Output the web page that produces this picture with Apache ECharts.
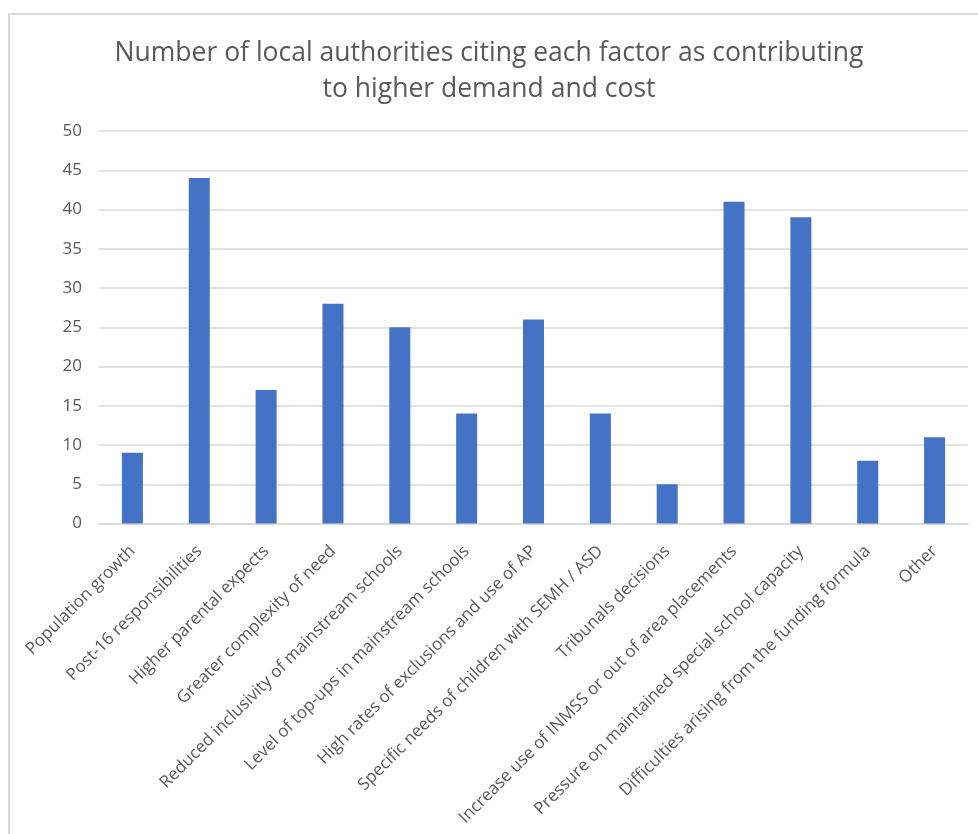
<!DOCTYPE html>
<html>
<head>
<meta charset="utf-8">
<script src="https://cdn.jsdelivr.net/npm/echarts@6/dist/echarts.min.js"></script>
<style>
  html, body { margin: 0; padding: 0; background: #fff; }
  #frame { position: absolute; left: 8px; top: 13px; width: 980px; height: 830px;
           border-left: 2px solid #d9d9d9; border-top: 2px solid #d9d9d9; box-sizing: border-box; }
  #chart { position: absolute; left: 0; top: 0; width: 978px; height: 834px; }
</style>
</head>
<body>
<div id="frame"></div>
<div id="chart"></div>
<script>
// Factors cited by local authorities
const categories = [
  'Population growth',
  'Post-16 responsibilities',
  'Higher parental expects',
  'Greater complexity of need',
  'Reduced inclusivity of mainstream schools',
  'Level of top-ups in mainstream schools',
  'High rates of exclusions and use of AP',
  'Specific needs of children with SEMH / ASD',
  'Tribunals decisions',
  'Increase use of INMSS or out of area placements',
  'Pressure on maintained special school capacity',
  'Difficulties arising from the funding formula',
  'Other'
];
// Number of local authorities citing each factor
const counts = [9, 44, 17, 28, 25, 14, 26, 14, 5, 41, 39, 8, 11];
const yTicks = { min: 0, max: 50, interval: 5 };

const chart = echarts.init(document.getElementById('chart'), null, { renderer: 'canvas' });
const font = '"Open Sans", "Noto Sans", sans-serif';
chart.setOption({
  animation: false,
  backgroundColor: 'transparent',
  title: {
    text: 'Number of local authorities citing each factor as contributing\nto higher demand and cost',
    left: 'center',
    top: 30,
    textStyle: { fontFamily: font, fontSize: 26.5, fontWeight: 'normal', color: '#595959', lineHeight: 36 }
  },
  grid: { left: 99, right: 10, top: 131, bottom: 310.5, containLabel: false },
  xAxis: {
    type: 'category',
    data: categories,
    axisLine: { lineStyle: { color: '#d9d9d9', width: 1.5 } },
    axisTick: { show: false },
    axisLabel: { interval: 0, rotate: 45, fontFamily: font, fontSize: 17, color: '#595959', margin: 25 }
  },
  yAxis: {
    type: 'value',
    min: yTicks.min, max: yTicks.max, interval: yTicks.interval,
    axisLine: { show: false },
    axisTick: { show: false },
    splitLine: { lineStyle: { color: '#d9d9d9', width: 1.5 } },
    axisLabel: { fontFamily: font, fontSize: 17, color: '#595959', margin: 17 }
  },
  series: [{
    type: 'bar',
    data: counts,
    barWidth: 21,
    itemStyle: { color: '#4472C4' }
  }]
});
</script>
</body>
</html>
